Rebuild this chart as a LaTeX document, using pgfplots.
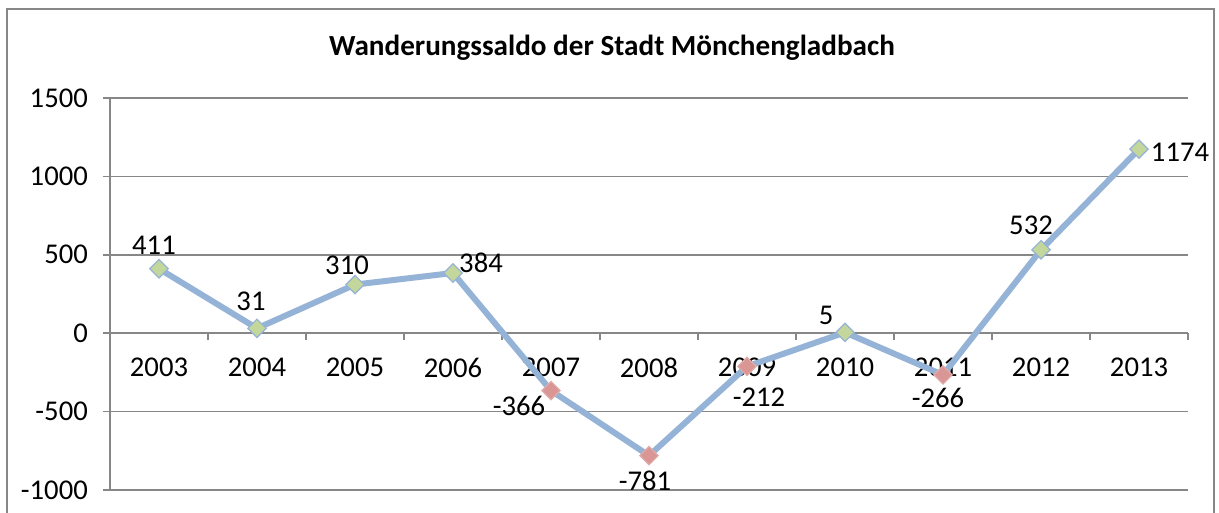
\documentclass[border=0pt]{standalone}
\usepackage{pgfplots}
\pgfplotsset{compat=1.18}
\usepackage{fontspec}
\setmainfont{Carlito}
\definecolor{serieslin}{HTML}{95B3D7}
\definecolor{posfill}{HTML}{C3D69B}
\definecolor{negfill}{HTML}{D99694}
\definecolor{gridgray}{HTML}{878787}
\newdimen\px \px=0.02cm
\newcommand\chartfont{\fontsize{16.3}{19}\selectfont}
% data label: x index, value, dx, dy (pixels), text
\newcommand\lbl[5]{\node[font=\chartfont,inner sep=0pt] at (axis cs:#1,#2) [xshift=#3\px,yshift=#4\px] {#5};}

\begin{document}
\begin{tikzpicture}[x=0.02cm,y=0.02cm]
\useasboundingbox (0,0) rectangle (1219,513);
\draw[gridgray,line width=2\px] (7,-5) -- (7,504) -- (1214,504) -- (1214,-5);
\node[font=\fontsize{16.6}{19}\selectfont\bfseries] at (612,465) {Wanderungssaldo der Stadt Mönchengladbach};

\begin{axis}[
  at={(110\px,23\px)}, anchor=south west,
  width=1078\px, height=392\px, scale only axis,
  xmin=-0.5, xmax=10.5, ymin=-1000, ymax=1500,
  axis x line=middle, axis y line*=left,
  axis line style={gridgray,line width=1.6\px,-},
  xtick={0,...,10},
  xticklabels={2003,2004,2005,2006,2007,2008,2009,2010,2011,2012,2013},
  major x tick style={draw=none},
  minor xtick={-0.5,0.5,...,10.5},
  minor x tick style={gridgray,line width=1.6\px},
  minor tick length=7\px,
  xtick align=outside,
  xticklabel style={font=\chartfont,yshift=-12\px},
  ytick={-1000,-500,0,500,1000,1500},
  yticklabels={-1000,-500,0,500,1000,1500},
  yticklabel style={font=\chartfont,xshift=-9\px},
  ytick align=outside, major tick length=7\px,
  y tick style={gridgray,line width=1.6\px},
  ymajorgrids, grid style={gridgray,line width=1.6\px},
  clip=false,
]
\addplot[serieslin, line width=6\px, mark=none] coordinates {
  (0,411)(1,31)(2,310)(3,384)(4,-366)(5,-781)(6,-212)(7,5)(8,-266)(9,532)(10,1174)
};
\addplot[only marks, mark=square*, mark size=6.5\px,
  mark options={rotate=45, fill=posfill, draw=serieslin, line width=1.2\px}] coordinates {
  (0,411)(1,31)(2,310)(3,384)(7,5)(9,532)(10,1174)
};
\addplot[only marks, mark=square*, mark size=6.5\px,
  mark options={rotate=45, fill=negfill, draw=negfill!80!white, line width=1.2\px}] coordinates {
  (4,-366)(5,-781)(6,-212)(8,-266)
};
\lbl{0}{411}{-5}{23}{411}
\lbl{1}{31}{-6}{27}{31}
\lbl{2}{310}{-8}{19}{310}
\lbl{3}{384}{28}{10}{384}
\lbl{4}{-366}{-32}{-15}{-366}
\lbl{5}{-781}{-4}{-25}{-781}
\lbl{6}{-212}{12}{-31}{-212}
\lbl{7}{5}{-19}{17}{5}
\lbl{8}{-266}{-5}{-23}{-266}
\lbl{9}{532}{-10}{24}{532}
\lbl{10}{1174}{41}{-3}{1174}
\end{axis}
\end{tikzpicture}
\end{document}
